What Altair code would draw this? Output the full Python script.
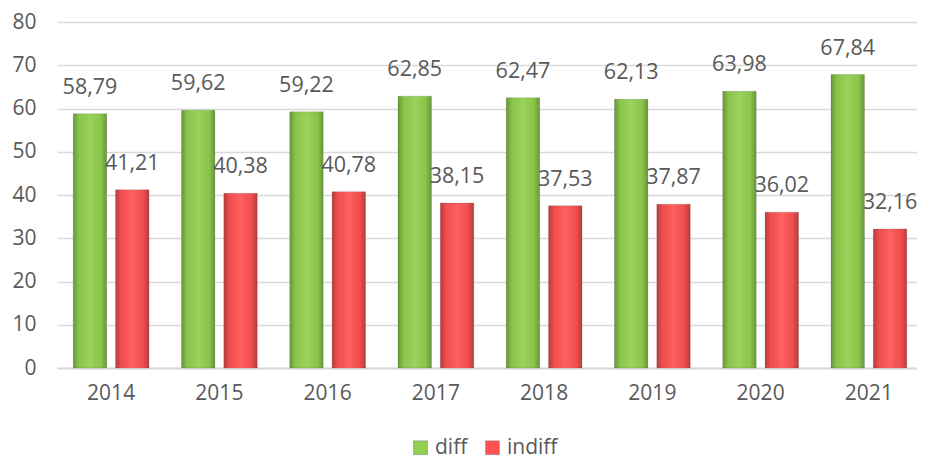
import altair as alt
import pandas as pd

years = ["2014", "2015", "2016", "2017", "2018", "2019", "2020", "2021"]
diff = [58.79, 59.62, 59.22, 62.85, 62.47, 62.13, 63.98, 67.84]
indiff = [41.21, 40.38, 40.78, 38.15, 37.53, 37.87, 36.02, 32.16]
series = ["diff", "indiff"]
colors = ["#92D050", "#FF5353"]

rows = []
for i, y in enumerate(years):
    for s, vals in zip(series, [diff, indiff]):
        v = vals[i]
        rows.append({"year": y, "series": s, "value": v,
                     "label": f"{v:.2f}".replace(".", ",")})
df = pd.DataFrame(rows)

FONT = "Open Sans"
GREY = "#595959"

x = alt.X("year:N", title=None,
          scale=alt.Scale(paddingInner=0.3, paddingOuter=0.15),
          axis=alt.Axis(labelAngle=0, labelFontSize=21, labelColor=GREY, labelFont=FONT,
                        ticks=False, domainColor="#D9D9D9", domainWidth=2, labelPadding=14))
xo = alt.XOffset("series:N", scale=alt.Scale(paddingInner=0.21, domain=series))
y = alt.Y("value:Q", title=None,
          scale=alt.Scale(domain=[0, 80]),
          axis=alt.Axis(values=list(range(0, 81, 10)), labelFontSize=21, labelColor=GREY,
                        labelFont=FONT, ticks=False, domain=False, gridColor="#D9D9D9",
                        gridWidth=1.5, labelPadding=21))

base = alt.Chart(df).encode(x=x, xOffset=xo, y=y)

bars = base.mark_bar(stroke="#5f5f5f", strokeWidth=0.5, strokeOpacity=0.4).encode(
    color=alt.Color("series:N", title=None,
                    scale=alt.Scale(domain=series, range=colors),
                    legend=alt.Legend(orient="none", legendX=353, legendY=415,
                                      direction="horizontal",
                                      symbolType="square", symbolSize=190,
                                      symbolStrokeColor="#777777", symbolStrokeWidth=0.5,
                                      labelFontSize=21, labelColor=GREY, labelFont=FONT,
                                      columnPadding=14, labelOffset=4, padding=0))
)

shade = base.mark_bar(
    fill=alt.Gradient(
        gradient="linear", x1=0, x2=1, y1=0, y2=0,
        stops=[alt.GradientStop(color="rgba(0,0,0,0.28)", offset=0),
               alt.GradientStop(color="rgba(0,0,0,0.05)", offset=0.18),
               alt.GradientStop(color="rgba(255,255,255,0.08)", offset=0.5),
               alt.GradientStop(color="rgba(0,0,0,0.05)", offset=0.82),
               alt.GradientStop(color="rgba(0,0,0,0.28)", offset=1)]
    )
)

text = base.mark_text(baseline="middle", dy=-26, fontSize=21.5, font=FONT, color=GREY).encode(
    text="label:N"
)

chart = (bars + shade + text).properties(
    width=866, height=346,
    padding={"left": 3, "top": 3, "right": -6, "bottom": 8}
).configure_view(stroke=None)

chart.save("out.html", embed_options={"renderer": "svg", "actions": False})
